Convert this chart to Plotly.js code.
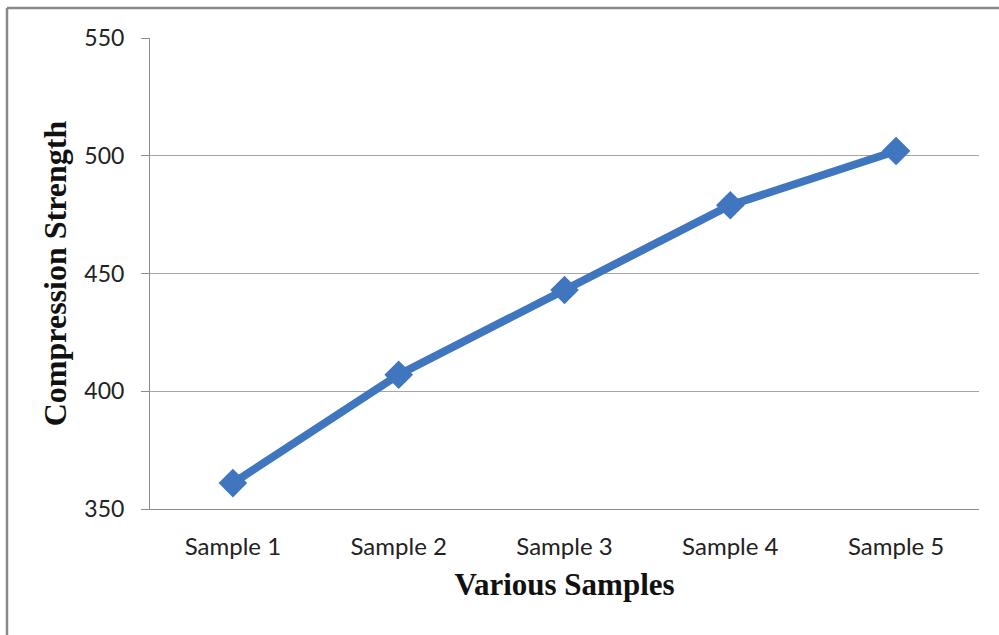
<!DOCTYPE html>
<html>
<head>
<meta charset="utf-8">
<script src="https://cdn.plot.ly/plotly-3.0.1.min.js"></script>
<style>
html,body{margin:0;padding:0;background:#fff;}
#chart{width:999px;height:635px;}
</style>
</head>
<body>
<div id="chart"></div>
<script>
const categories = ["Sample 1", "Sample 2", "Sample 3", "Sample 4", "Sample 5"];
const strength = [361, 407, 443, 479, 502];
const yTicks = [350, 400, 450, 500, 550];

const trace = {
  x: categories,
  y: strength,
  type: 'scatter',
  mode: 'lines+markers',
  line: {color: '#3f76bf', width: 8},
  marker: {symbol: 'diamond', size: 22, color: '#3f76bf'},
  hoverinfo: 'x+y'
};

const layout = {
  width: 999, height: 635,
  margin: {l: 150, r: 20, t: 38, b: 126},
  paper_bgcolor: '#ffffff',
  plot_bgcolor: '#ffffff',
  showlegend: false,
  xaxis: {
    type: 'category',
    range: [-0.5, 4.5],
    showgrid: false,
    showline: true, linecolor: '#8c8c8c', linewidth: 1,
    ticks: '',
    ticklabelstandoff: 16,
    tickfont: {family: 'Lato, "Open Sans", sans-serif', size: 24, color: '#222'},
    title: {text: 'Various Samples', standoff: 14,
      font: {family: '"Liberation Serif", "Times New Roman", serif', size: 31, color: '#111', weight: 'bold'}},
    zeroline: false
  },
  yaxis: {
    range: [350, 550],
    tickvals: yTicks,
    ticktext: yTicks.map(String),
    showgrid: true, gridcolor: '#a6a6a6', gridwidth: 1,
    showline: true, linecolor: '#8c8c8c', linewidth: 1,
    ticks: 'outside', ticklen: 8, tickcolor: '#8c8c8c',
    ticklabelstandoff: 12,
    tickfont: {family: 'Lato, "Open Sans", sans-serif', size: 23, color: '#222'},
    title: {text: 'Compression Strength', standoff: 8,
      font: {family: '"Liberation Serif", "Times New Roman", serif', size: 32, color: '#111', weight: 'bold'}},
    zeroline: false
  },
  shapes: [
    {type: 'line', xref: 'paper', yref: 'paper', x0: -143/829, x1: 1.1, y0: 1 + 30/471, y1: 1 + 30/471,
     line: {color: '#8a8a8a', width: 2.5}},
    {type: 'line', xref: 'paper', yref: 'paper', x0: -143/829, x1: -143/829, y0: 1 + 30/471, y1: -0.4,
     line: {color: '#8a8a8a', width: 2.5}}
  ]
};

Plotly.newPlot('chart', [trace], layout, {displayModeBar: false, staticPlot: true});
</script>
</body>
</html>
